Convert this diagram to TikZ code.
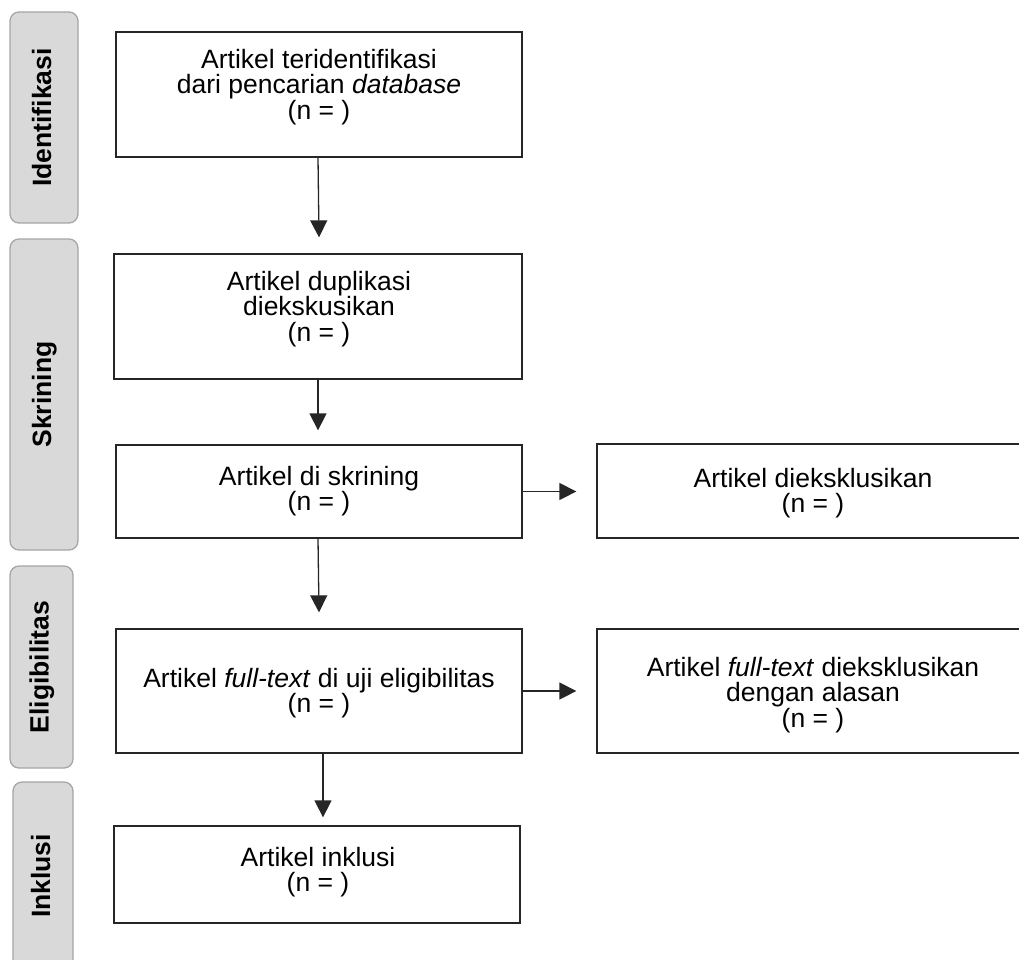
\documentclass[tikz,border=0pt]{standalone}
\usepackage{fontspec}
\setmainfont{Liberation Sans}
\usetikzlibrary{arrows.meta}
\begin{document}
\begin{tikzpicture}[x=1pt,y=-1pt,
  tab/.style={draw=black!35,fill=black!15,line width=1.3pt,rounded corners=9pt,rotate=90,
    font=\fontsize{26.5}{26}\selectfont\bfseries,text height=19pt,text depth=5pt,inner sep=0pt},
  box/.style={draw=black!85,line width=1.3pt,inner sep=0pt},
  txt/.style={align=center,font=\fontsize{26.5}{25.5}\selectfont,inner sep=0pt},
  arr/.style={draw=black!85,line width=1.3pt,-{Triangle[length=17pt,width=17pt]}}]
\clip (0,0) rectangle (1019,959);
% side tabs
\node[tab,minimum width=211pt,minimum height=68pt] (p1) at (44,117.5) {Identifikasi};
\node[tab,minimum width=311pt,minimum height=68pt] (p2) at (44,394.5) {Skrining};
\node[tab,minimum width=202pt,minimum height=63pt] (p3) at (41.5,667) {Eligibilitas};
\node[tab,minimum width=188pt,minimum height=60pt] (p4) at (43,876) {Inklusi};
% boxes
\node[box,minimum width=406pt,minimum height=125pt] (b1) at (319,94.5) {};
\node[box,minimum width=408pt,minimum height=125pt] (b2) at (318,316.5) {};
\node[box,minimum width=406pt,minimum height=93pt] (b3) at (319,491.5) {};
\node[box,minimum width=432pt,minimum height=94pt] (b4) at (813,491) {};
\node[box,minimum width=406pt,minimum height=124pt] (b5) at (319,691) {};
\node[box,minimum width=432pt,minimum height=124pt] (b6) at (813,691) {};
\node[box,minimum width=406pt,minimum height=97pt] (b7) at (317,874.5) {};
% texts
\node[txt] (t1) at (319,87) {Artikel teridentifikasi\\dari pencarian \textit{database}\\(n = )};
\node[txt] (t2) at (319,309) {Artikel duplikasi\\diekskusikan\\(n = )};
\node[txt] (t3) at (319,491) {Artikel di skrining\\(n = )};
\node[txt] (t4) at (813,493) {Artikel dieksklusikan\\(n = )};
\node[txt] (t5) at (319,693) {Artikel \textit{full-text} di uji eligibilitas\\(n = )};
\node[txt] (t6) at (813,695) {Artikel \textit{full-text} dieksklusikan\\dengan alasan\\(n = )};
\node[txt] (t7) at (318,872) {Artikel inklusi\\(n = )};
% arrows
\draw[arr] ([xshift=-1pt]b1.south) -- ([yshift=16pt]b1.south |- b2.north);
\draw[arr] (b2.south) -- ([yshift=14pt]b2.south |- b3.north);
\draw[arr] ([xshift=-1pt]b3.south) -- ([yshift=16pt]b3.south |- b5.north);
\draw[arr] (b3.east) -- ([xshift=-20pt]b4.west |- b3.east);
\draw[arr] (b5.east) -- ([xshift=-20pt]b6.west |- b5.east);
\draw[arr] ([xshift=4pt]b5.south) -- ([xshift=4pt,yshift=8pt]b5.south |- b7.north);
\end{tikzpicture}
\end{document}
